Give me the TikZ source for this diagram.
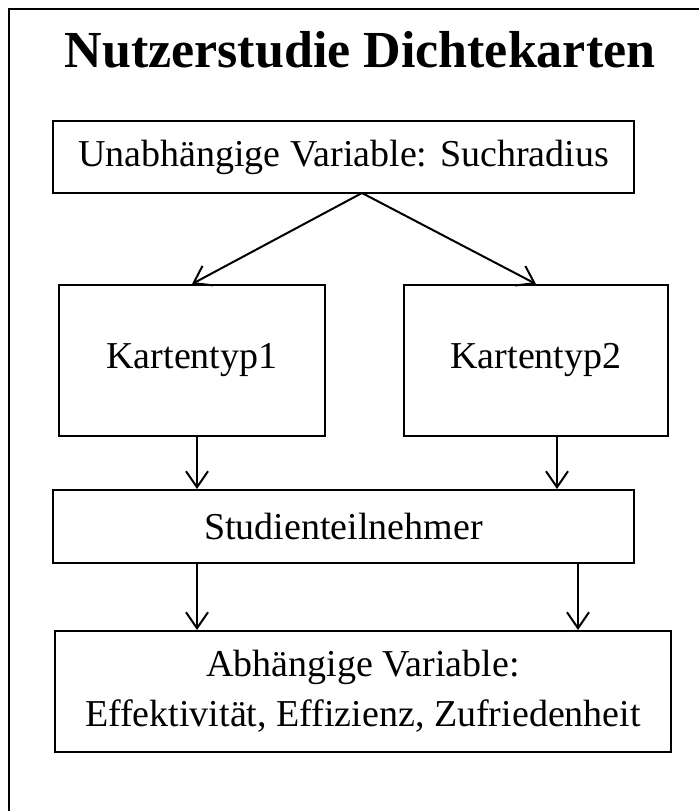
\documentclass[tikz,border=0pt]{standalone}
\usepackage{fontspec}
\setmainfont{Liberation Serif}
\usetikzlibrary{arrows.meta}
\usetikzlibrary{positioning}

\tikzset{
  box/.style={draw,line width=2pt,inner sep=0pt,align=center,font=\fontsize{38}{50}\selectfont},
  arr/.style={line width=2pt,-{Straight Barb[length=16pt,width=22pt,line width=2pt]}}
}

\begin{document}
\begin{tikzpicture}[x=1pt,y=-1pt]
  \useasboundingbox (0,0) rectangle (699,811);
  \draw[line width=2.6pt] (9,811) -- (9,9) -- (699,9);
  \node(title) at (360,50) {\fontsize{52}{60}\selectfont\textbf{Nutzerstudie Dichtekarten}};
  \node(top)[box,minimum width=581,minimum height=72] at (343.5,157) {Unabhängige Variable: Suchradius};
  \node(k1)[box,minimum width=266,minimum height=151] at (192,360.5) {Kartentyp1};
  \node(k2)[box,minimum width=264,minimum height=151] at (536,360.5) {Kartentyp2};
  \node(studi)[box,minimum width=581,minimum height=73] at (343.5,526.5) {Studienteilnehmer};
  \node(abh)[box,minimum width=616,minimum height=121] at (363,691.5) {Abhängige Variable:\\Effektivität, Effizienz, Zufriedenheit};
  \coordinate(apex) at (362,193);
  \draw[arr] (apex) -- (k1.north);
  \draw[arr] (apex) -- (k2.north);
  \draw[arr] ([xshift=5]k1.south) -- ([xshift=5]k1.south |- studi.north);
  \draw[arr] ([xshift=21]k2.south) -- ([xshift=21]k2.south |- studi.north);
  \draw[arr] ([xshift=-146.5]studi.south) -- ([xshift=-146.5]studi.south |- abh.north);
  \draw[arr] ([xshift=234.5]studi.south) -- ([xshift=234.5]studi.south |- abh.north);
\end{tikzpicture}
\end{document}
